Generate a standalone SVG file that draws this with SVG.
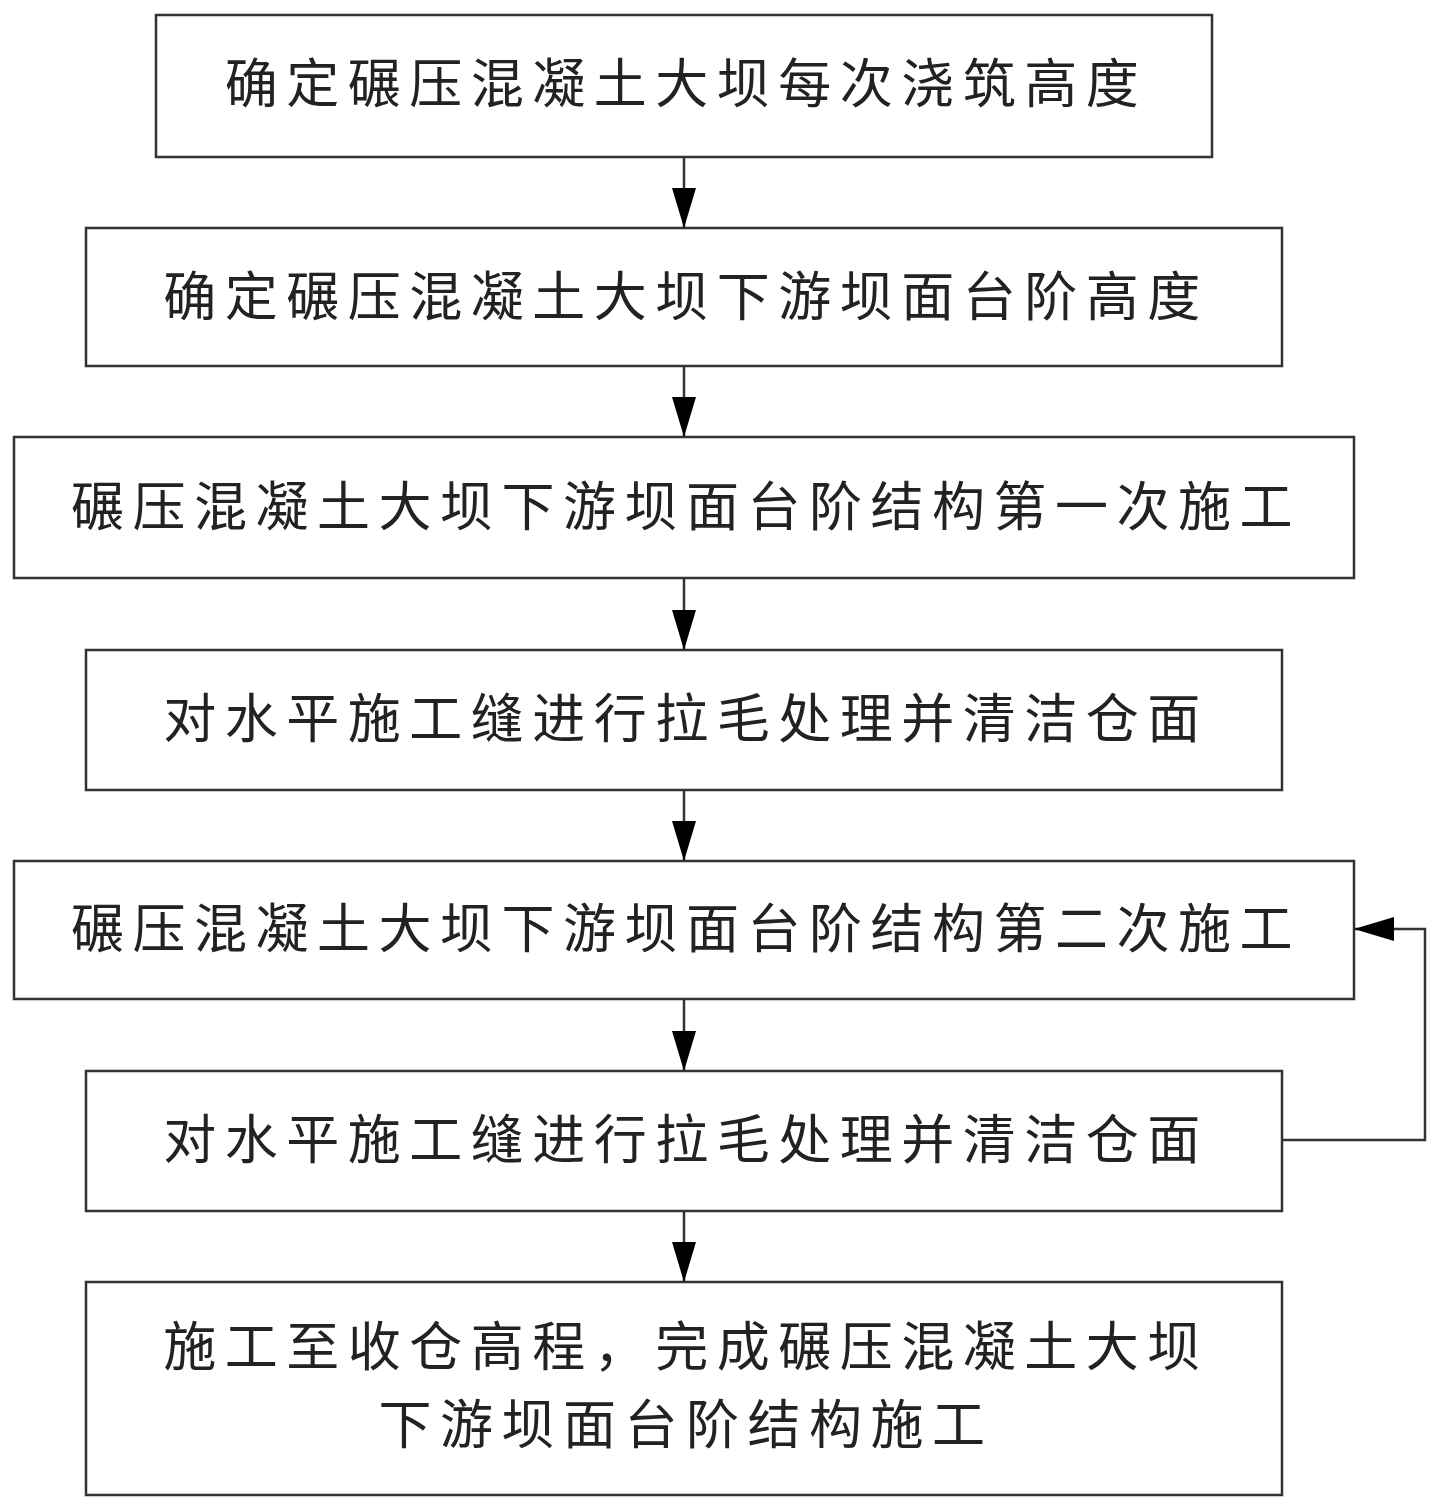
<svg xmlns="http://www.w3.org/2000/svg" width="1440" height="1510" viewBox="0 0 1440 1510">
<style>
.box{fill:#fff;stroke:#333;stroke-width:2.5}
.t{font-family:"Noto Sans CJK SC","Noto Sans CJK JP",sans-serif;font-size:53px;fill:#222;text-anchor:middle;dominant-baseline:central;letter-spacing:8.5px}
.c{fill:none;stroke:#333;stroke-width:2.5}
</style>
<defs>
<marker id="ah" markerWidth="40" markerHeight="24" refX="40" refY="12" viewBox="0 0 40 24" markerUnits="userSpaceOnUse" orient="auto">
<path d="M0,0 L40,12 L0,24 Z" fill="#000"/>
</marker>
</defs>
<rect width="1440" height="1510" fill="#fff"/>
<g id="n1"><rect class="box" x="156" y="15" width="1056" height="142"/><text class="t" x="686" y="80">确定碾压混凝土大坝每次浇筑高度</text></g>
<g id="n2"><rect class="box" x="86" y="228" width="1196" height="138"/><text class="t" x="686" y="293">确定碾压混凝土大坝下游坝面台阶高度</text></g>
<g id="n3"><rect class="box" x="14" y="437" width="1340" height="141"/><text class="t" x="686" y="503">碾压混凝土大坝下游坝面台阶结构第一次施工</text></g>
<g id="n4"><rect class="box" x="86" y="650" width="1196" height="140"/><text class="t" x="686" y="715">对水平施工缝进行拉毛处理并清洁仓面</text></g>
<g id="n5"><rect class="box" x="14" y="861" width="1340" height="138"/><text class="t" x="686" y="925">碾压混凝土大坝下游坝面台阶结构第二次施工</text></g>
<g id="n6"><rect class="box" x="86" y="1071" width="1196" height="140"/><text class="t" x="686" y="1136">对水平施工缝进行拉毛处理并清洁仓面</text></g>
<g id="n7"><rect class="box" x="86" y="1282" width="1196" height="213"/><text class="t" x="686" y="1343">施工至收仓高程，完成碾压混凝土大坝</text><text class="t" x="686" y="1421">下游坝面台阶结构施工</text></g>
<g id="connectors">
<line class="c" x1="684" y1="157" x2="684" y2="228" marker-end="url(#ah)"/>
<line class="c" x1="684" y1="366" x2="684" y2="437" marker-end="url(#ah)"/>
<line class="c" x1="684" y1="578" x2="684" y2="650" marker-end="url(#ah)"/>
<line class="c" x1="684" y1="790" x2="684" y2="861" marker-end="url(#ah)"/>
<line class="c" x1="684" y1="999" x2="684" y2="1071" marker-end="url(#ah)"/>
<line class="c" x1="684" y1="1211" x2="684" y2="1282" marker-end="url(#ah)"/>
<polyline class="c" points="1282,1140 1425,1140 1425,929 1354,929" marker-end="url(#ah)"/>
</g>
</svg>
